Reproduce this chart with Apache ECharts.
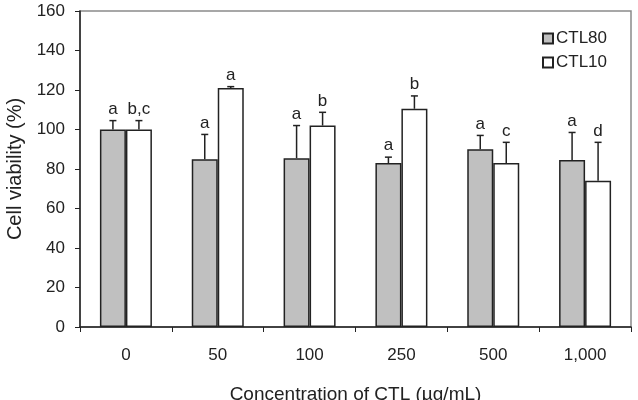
<!DOCTYPE html>
<html>
<head>
<meta charset="utf-8">
<script src="https://cdn.jsdelivr.net/npm/echarts@6/dist/echarts.min.js"></script>
<style>
  html, body { margin: 0; padding: 0; background: #fff; }
  #chart_box { width: 638px; height: 400px; }
</style>
</head>
<body>
<div id="chart_box"></div>
<script>
// concentrations (ug/mL)
var categories = ['0', '50', '100', '250', '500', '1,000']
var ctl80 = [100, 85, 85.5, 83, 90, 84.5]
var ctl10 = [100, 121, 102, 110.5, 83, 74]
// error bar tops (mean + SD)
var ctl80Err = [104.5, 97.5, 102, 86, 97, 98.5]
var ctl10Err = [104.5, 121.7, 108.7, 117, 93.5, 93.5]
// significance letters
var ctl80Letters = ['a', 'a', 'a', 'a', 'a', 'a']
var ctl10Letters = ['b,c', 'a', 'b', 'b', 'c', 'd']

var myChart = echarts.init(document.getElementById('chart_box'))
var barW = 26
var fontFam = 'Liberation Sans, Arial, sans-serif'

function errSeries(vals, errs, letters, offset) {
  var data = vals.map(function (v, i) { return [i, v, errs[i]] })
  return {
    type: 'custom',
    silent: true,
    z: 5,
    data: data,
    renderItem: function (params, api) {
      var idx = api.value(0)
      var base = api.coord([idx, api.value(1)])
      var top = api.coord([idx, api.value(2)])
      var x = base[0] + offset
      return {
        type: 'group',
        children: [
          { type: 'line', shape: { x1: x, y1: base[1], x2: x, y2: top[1] }, style: { stroke: '#222', lineWidth: 1.5 } },
          { type: 'line', shape: { x1: x - 3.5, y1: top[1], x2: x + 3.5, y2: top[1] }, style: { stroke: '#222', lineWidth: 1.5 } },
          {
            type: 'text',
            x: x,
            y: top[1] - 3,
            style: {
              text: letters[idx],
              fill: '#222',
              font: '17px ' + fontFam,
              align: 'center',
              verticalAlign: 'bottom'
            }
          }
        ]
      }
    }
  }
}

var option = {
  animation: false,
  grid: {
    left: 80,
    right: 7,
    top: 11,
    bottom: 73,
    containLabel: false,
    outerBoundsMode: 'none',
    show: true,
    borderColor: '#8a8a8a',
    borderWidth: 1.5
  },
  legend: {
    orient: 'vertical',
    left: 537,
    top: 25,
    icon: 'rect',
    itemWidth: 10,
    itemHeight: 10,
    itemGap: 7,
    textStyle: { fontSize: 17, color: '#222', fontFamily: fontFam, padding: [0, 0, 0, -2] },
    data: ['CTL80', 'CTL10']
  },
  xAxis: {
    type: 'category',
    data: categories,
    name: 'Concentration of CTL (\u00b5g/mL)',
    nameLocation: 'middle',
    nameGap: 58,
    nameTextStyle: { fontSize: 19, color: '#222', fontFamily: fontFam },
    axisLine: { lineStyle: { color: '#222', width: 1.5 } },
    axisTick: { show: true, length: 5, lineStyle: { color: '#222' } },
    axisLabel: { fontSize: 17, color: '#222', fontFamily: fontFam, margin: 20 }
  },
  yAxis: {
    type: 'value',
    min: 0,
    max: 160,
    interval: 20,
    name: 'Cell viability (%)',
    nameLocation: 'middle',
    nameGap: 55,
    nameTextStyle: { fontSize: 20, color: '#222', fontFamily: fontFam },
    splitLine: { show: false },
    axisLine: { show: true, lineStyle: { color: '#222', width: 1.5 } },
    axisTick: { show: true, length: 5, lineStyle: { color: '#222' } },
    axisLabel: { fontSize: 17, color: '#222', fontFamily: fontFam, margin: 15 }
  },
  series: [
    {
      name: 'CTL80',
      type: 'bar',
      data: ctl80,
      barWidth: barW,
      barGap: '0%',
      itemStyle: { color: '#c0c0c0', borderColor: '#222', borderWidth: 1.5 }
    },
    {
      name: 'CTL10',
      type: 'bar',
      data: ctl10,
      barWidth: barW,
      itemStyle: { color: '#ffffff', borderColor: '#222', borderWidth: 1.5 }
    },
    errSeries(ctl80, ctl80Err, ctl80Letters, -barW / 2),
    errSeries(ctl10, ctl10Err, ctl10Letters, barW / 2)
  ]
}
option && myChart.setOption(option)
</script>
</body>
</html>
